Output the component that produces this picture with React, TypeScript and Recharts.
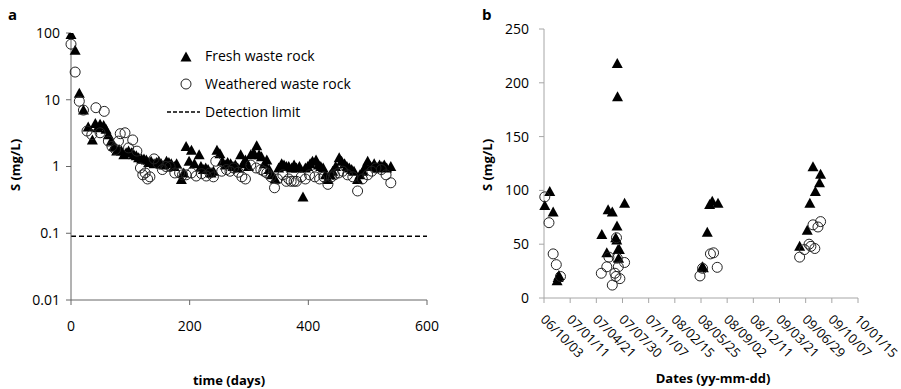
import { ScatterChart, Scatter, XAxis, YAxis, ReferenceLine } from 'recharts';

const FONT = '"Open Sans", Arial, sans-serif';

// panel a: S over time (days), log scale
const freshDays = [
  0, 7, 14, 21, 29, 36, 41, 45, 49, 55, 59, 63, 68, 72, 77, 81, 85, 89, 93, 97,
  102, 106, 110, 114, 119, 123, 127, 131, 135, 140, 144, 148, 152, 157, 161, 165, 169, 174, 178, 186,
  190, 194, 199, 203, 208, 216, 219, 223, 227, 231, 236, 240, 246, 251, 255, 260, 264, 269, 273, 277,
  281, 286, 290, 294, 299, 303, 308, 313, 317, 321, 326, 330, 334, 338, 344, 350, 355, 359, 363, 367,
  372, 376, 380, 385, 391, 395, 399, 403, 407, 413, 417, 421, 425, 429, 433, 437, 441, 446, 452, 456,
  461, 465, 469, 473, 477, 483, 487, 492, 496, 500, 505, 511, 516, 520, 524, 528, 532, 539,
];
const freshS = [
  95, 55, 12.5, 7, 3.9, 2.5, 4.4, 3.8, 4.3, 4.1, 3.6, 3.0, 2.4, 2.0, 1.7, 1.8, 1.7, 1.5, 1.6, 1.7,
  1.6, 1.5, 1.45, 1.35, 1.3, 1.3, 1.25, 1.15, 1.2, 1.1, 1.15, 1.2, 1.1, 1.05, 1.2, 1.15, 1.1, 1.0, 1.1, 0.64,
  0.8, 2.0, 1.2, 1.75, 1.1, 1.5, 1.0, 0.9, 0.95, 0.9, 0.8, 0.85, 1.75, 1.55, 1.2, 1.05, 1.15, 1.1, 1.0, 1.05,
  0.95, 1.5, 1.1, 1.25, 1.0, 1.5, 1.6, 2.05, 1.5, 1.4, 1.1, 1.25, 0.9, 0.75, 0.65, 0.95, 1.1, 1.05, 1.0, 1.0,
  0.95, 1.05, 0.95, 1.0, 0.35, 0.95, 1.0, 1.1, 1.2, 1.25, 1.05, 1.0, 0.95, 0.75, 0.64, 0.75, 0.85, 1.0, 1.35, 1.2,
  1.1, 1.0, 0.95, 0.9, 0.85, 0.64, 0.75, 0.85, 1.0, 1.2, 1.0, 1.1, 0.95, 1.05, 1.0, 1.05, 0.95, 1.0,
];
const weatheredDays = [
  0, 7, 14, 21, 27, 35, 42, 49, 56, 63, 69, 75, 80, 83, 91, 97, 104, 111, 117, 121,
  125, 129, 133, 140, 147, 154, 160, 167, 175, 183, 188, 194, 203, 211, 220, 228, 234, 240, 244, 254,
  262, 268, 274, 282, 288, 294, 303, 312, 320, 325, 330, 337, 343, 348, 357, 363, 367, 371, 376, 380,
  388, 395, 402, 411, 419, 426, 433, 439, 444, 451, 458, 466, 475, 483, 491, 500, 507, 514, 523, 531,
  539,
];
const weatheredS = [
  68, 26, 9.5, 7, 3.4, 3.0, 7.6, 3.2, 6.7, 2.4, 2.0, 1.8, 2.4, 3.1, 3.2, 1.9, 2.5, 1.7, 0.95, 0.75,
  0.8, 0.65, 0.7, 1.3, 1.1, 0.9, 1.0, 1.0, 0.8, 0.8, 0.75, 0.75, 0.8, 0.72, 0.78, 0.72, 0.8, 0.7, 1.2, 0.85,
  0.9, 0.85, 0.95, 0.82, 0.7, 0.65, 1.05, 0.95, 0.9, 0.85, 0.8, 0.7, 0.48, 0.65, 0.75, 0.6, 0.65, 0.6, 0.6, 0.6,
  0.7, 0.65, 0.75, 0.7, 0.65, 0.7, 0.54, 0.7, 0.75, 0.8, 0.85, 0.75, 0.7, 0.43, 0.65, 0.75, 0.85, 0.95, 0.9, 0.75,
  0.57,
];
const detectionLimit = 0.09;
const timeTicks = [0, 200, 400, 600];
const logTicks = [0.01, 0.1, 1, 10, 100];

// panel b: S by sampling date (days after 06/10/03)
const fieldFreshDays = [3, 22, 35, 50, 54, 57, 221, 240, 245, 261, 274, 278, 279, 280, 281, 283, 285, 288, 308, 605, 609, 624, 633, 643, 665, 977, 1006, 1016, 1028, 1037, 1053, 1057];
const fieldFreshS = [86, 99, 80, 16, 19, 21, 59, 42, 82, 80, 56, 54, 67, 218, 187, 45, 37, 45, 88, 29, 28, 61, 87, 90, 88, 48, 63, 88, 122, 99, 107, 115];
const fieldWeatheredDays = [3, 19, 35, 47, 63, 219, 240, 248, 261, 271, 275, 277, 280, 284, 290, 308, 596, 606, 636, 648, 662, 977, 995, 1013, 1020, 1028, 1035, 1047, 1057];
const fieldWeatheredS = [94, 70, 41, 31, 20, 23, 29, 38, 12, 23, 20, 56, 37, 29, 18, 33, 20.5, 27.6, 41, 42, 28.5, 38, 45, 50, 48, 68, 46, 66, 71];
const dateTicks = [0, 100, 200, 300, 400, 500, 600, 700, 800, 900, 1000, 1100, 1200];
const dateLabels = ['06/10/03', '07/01/11', '07/04/21', '07/07/30', '07/11/07', '08/02/15', '08/05/25', '08/09/02', '08/12/11', '09/03/21', '09/06/29', '09/10/07', '10/01/15'];
const linearTicks = [0, 50, 100, 150, 200, 250];

const fresh = freshDays.map((d, i) => ({ day: d, s: freshS[i] }));
const weathered = weatheredDays.map((d, i) => ({ day: d, s: weatheredS[i] }));
const fieldFresh = fieldFreshDays.map((d, i) => ({ day: d, s: fieldFreshS[i] }));
const fieldWeathered = fieldWeatheredDays.map((d, i) => ({ day: d, s: fieldWeatheredS[i] }));

function Triangle(props: any) {
  const { cx, cy } = props;
  if (cx == null || cy == null) return null;
  return <polygon points={`${cx},${cy - 5.5} ${cx - 5.5},${cy + 4.5} ${cx + 5.5},${cy + 4.5}`} fill="#000" />;
}

function Ring(props: any) {
  const { cx, cy } = props;
  if (cx == null || cy == null) return null;
  return <circle cx={cx} cy={cy} r={5} fill="none" stroke="#222" strokeWidth={1} />;
}

function DateTick(props: any) {
  const { x, y, payload } = props;
  const i = dateTicks.indexOf(payload.value);
  return (
    <g transform={`translate(${x - 1},${y + 12}) rotate(45)`}>
      <text x={0} y={0} dy="0.35em" textAnchor="start" fontSize={13} fontFamily={FONT} fill="#000">
        {dateLabels[i]}
      </text>
    </g>
  );
}

const tickStyle = { fill: '#000', fontSize: 14, fontFamily: FONT };
const bold: any = { position: 'absolute', fontFamily: FONT, fontWeight: 700, fontSize: 13, color: '#000', whiteSpace: 'nowrap' };
const legendText: any = { position: 'absolute', fontFamily: FONT, fontSize: 14, color: '#000', whiteSpace: 'nowrap', lineHeight: '16px' };

export default function App() {
  return (
    <div style={{ position: 'absolute', left: 0, top: 0, width: 901, height: 389, background: '#fff' }}>
      <div style={{ position: 'absolute', left: 0, top: 0 }}>
        <ScatterChart width={470} height={389} margin={{ top: 33, right: 43, bottom: 59, left: 0 }}>
          <XAxis
            type="number"
            dataKey="day"
            domain={[0, 600]}
            ticks={timeTicks}
            height={30}
            tickSize={5}
            tickMargin={16}
            stroke="#666"
            tick={tickStyle}
          />
          <YAxis
            type="number"
            dataKey="s"
            scale="log"
            domain={[0.01, 100]}
            ticks={logTicks}
            allowDataOverflow
            width={71}
            tickSize={5}
            tickMargin={6}
            stroke="#666"
            tick={tickStyle}
            tickFormatter={(v) => String(v)}
          />
          <ReferenceLine y={detectionLimit} stroke="#000" strokeWidth={1.5} strokeDasharray="5 3" />
          <Scatter name="Fresh waste rock" data={fresh} shape={Triangle} isAnimationActive={false} />
          <Scatter name="Weathered waste rock" data={weathered} shape={Ring} isAnimationActive={false} />
        </ScatterChart>
      </div>

      <div style={{ position: 'absolute', left: 480, top: 0 }}>
        <ScatterChart width={421} height={389} margin={{ top: 29, right: 43, bottom: 11, left: 0 }}>
          <XAxis
            type="number"
            dataKey="day"
            domain={[0, 1200]}
            ticks={dateTicks}
            height={80}
            tickSize={5}
            stroke="#a6a6a6"
            tick={<DateTick />}
            interval={0}
          />
          <YAxis
            type="number"
            dataKey="s"
            domain={[0, 250]}
            ticks={linearTicks}
            width={64}
            tickSize={5}
            tickMargin={10}
            stroke="#a6a6a6"
            tick={tickStyle}
          />
          <Scatter name="Fresh waste rock" data={fieldFresh} shape={Triangle} isAnimationActive={false} />
          <Scatter name="Weathered waste rock" data={fieldWeathered} shape={Ring} isAnimationActive={false} />
        </ScatterChart>
      </div>

      {/* legend for panel a */}
      <svg style={{ position: 'absolute', left: 160, top: 45 }} width={44} height={80}>
        <Triangle cx={26} cy={12} />
        <Ring cx={26} cy={39} />
        <line x1={7} y1={67} x2={40} y2={67} stroke="#000" strokeWidth={1.5} strokeDasharray="4 2" />
      </svg>
      <div style={{ ...legendText, left: 205, top: 48 }}>Fresh waste rock</div>
      <div style={{ ...legendText, left: 205, top: 76 }}>Weathered waste rock</div>
      <div style={{ ...legendText, left: 205, top: 104 }}>Detection limit</div>

      {/* panel letters and axis titles */}
      <div style={{ ...bold, fontSize: 15, left: 8, top: 4 }}>a</div>
      <div style={{ ...bold, fontSize: 15, left: 482, top: 4 }}>b</div>
      <div style={{ ...bold, left: 229, top: 371, transform: 'translateX(-50%)' }}>time (days)</div>
      <div style={{ ...bold, left: 713, top: 369, transform: 'translateX(-50%)' }}>Dates (yy-mm-dd)</div>
      <div style={{ ...bold, left: 15, top: 165, transform: 'translate(-50%, -50%) rotate(-90deg)' }}>S (mg/L)</div>
      <div style={{ ...bold, left: 487, top: 165, transform: 'translate(-50%, -50%) rotate(-90deg)' }}>S (mg/L)</div>
    </div>
  );
}
